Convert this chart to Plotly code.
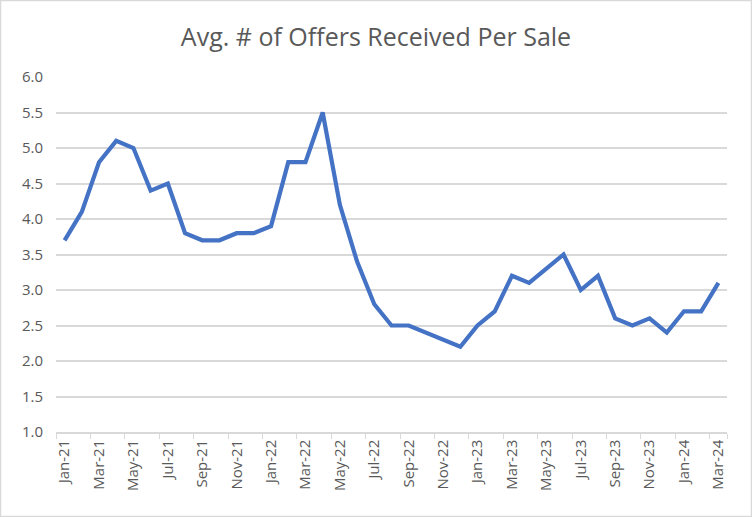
import plotly.graph_objects as go

# monthly data, Jan-21 .. Mar-24
months = [
    "Jan-21", "Feb-21", "Mar-21", "Apr-21", "May-21", "Jun-21",
    "Jul-21", "Aug-21", "Sep-21", "Oct-21", "Nov-21", "Dec-21",
    "Jan-22", "Feb-22", "Mar-22", "Apr-22", "May-22", "Jun-22",
    "Jul-22", "Aug-22", "Sep-22", "Oct-22", "Nov-22", "Dec-22",
    "Jan-23", "Feb-23", "Mar-23", "Apr-23", "May-23", "Jun-23",
    "Jul-23", "Aug-23", "Sep-23", "Oct-23", "Nov-23", "Dec-23",
    "Jan-24", "Feb-24", "Mar-24",
]
avg_offers = [
    3.7, 4.1, 4.8, 5.1, 5.0, 4.4, 4.5, 3.8, 3.7, 3.7, 3.8, 3.8,
    3.9, 4.8, 4.8, 5.5, 4.2, 3.4, 2.8, 2.5, 2.5, 2.4, 2.3, 2.2,
    2.5, 2.7, 3.2, 3.1, 3.3, 3.5, 3.0, 3.2, 2.6, 2.5, 2.6, 2.4,
    2.7, 2.7, 3.1,
]
y_ticks = [1.0, 1.5, 2.0, 2.5, 3.0, 3.5, 4.0, 4.5, 5.0, 5.5, 6.0]

grey_txt = "#595959"
grid_col = "#d9d9d9"

fig = go.Figure()
fig.add_trace(
    go.Scatter(
        x=months, y=avg_offers,
        mode="lines", line=dict(color="#4472C4", width=4.2),
        name="Avg. # of Offers",
    )
)

fig.update_layout(
    width=752, height=517,
    title=dict(
        text="Avg. # of Offers Received Per Sale",
        x=0.5, xanchor="center", y=0.928, yanchor="middle",
        font=dict(family="Open Sans", size=25, color=grey_txt),
    ),
    margin=dict(l=56, r=25, t=77, b=85),
    paper_bgcolor="white",
    plot_bgcolor="white",
    showlegend=False,
    font=dict(family="Open Sans", size=15, color=grey_txt),
    shapes=[
        # thin frame round the chart area
        dict(type="rect", xref="paper", yref="paper",
             x0=-55.5 / 671, x1=1 + 24.5 / 671, y0=-84.5 / 355, y1=1 + 76.5 / 355,
             line=dict(color=grid_col, width=1.5)),
    ],
)

fig.update_xaxes(
    type="category",
    tickvals=months[::2],
    ticktext=months[::2],
    tickangle=-90,
    ticks="outside", tickson="boundaries", ticklen=5, tickcolor=grid_col,
    showgrid=False,
    showline=True, linecolor=grid_col, linewidth=1.5,
    range=[-0.5, len(months) - 0.5],
)
fig.update_yaxes(
    range=[1.0, 6.0],
    tickvals=y_ticks,
    ticktext=[f"{v:.1f}" for v in y_ticks],
    showgrid=True, gridcolor=grid_col, gridwidth=1.5,
    zeroline=False, ticks="", ticklabelstandoff=12,
)

# drop the browser's default body margin so the chart sits at 0,0
fig.write_html(
    "out.html",
    config={"displayModeBar": False},
    post_script="document.body.style.margin='0';",
)
